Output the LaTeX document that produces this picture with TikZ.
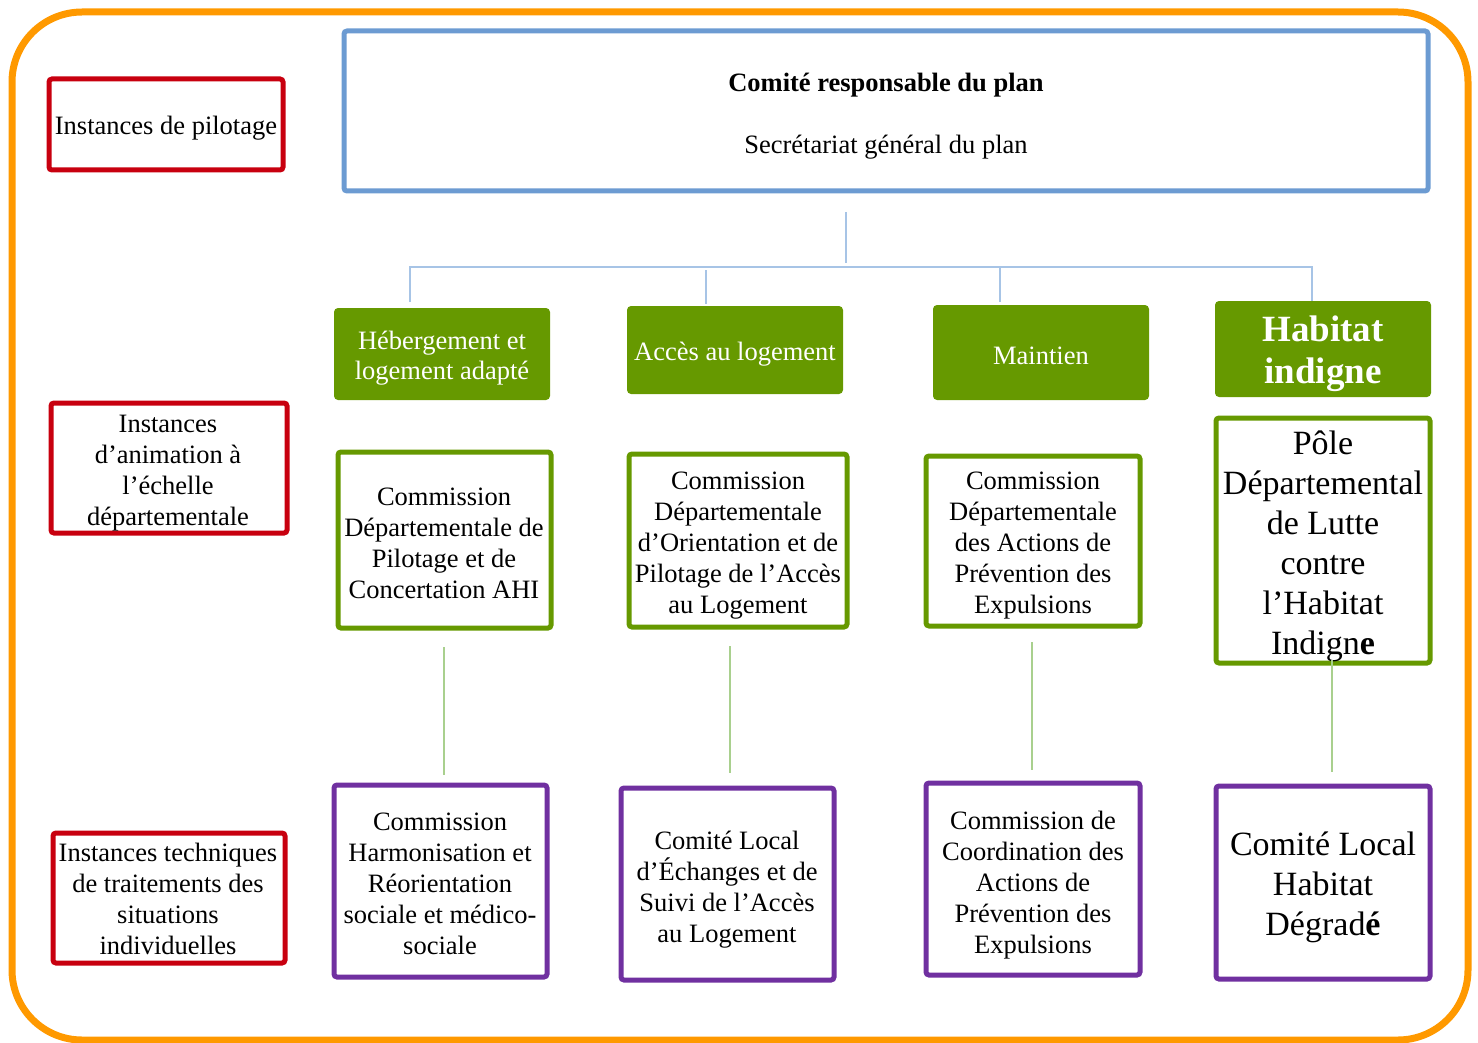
\documentclass[tikz,border=0pt]{standalone}
\usepackage{fontspec}
\setmainfont{Liberation Serif}
\definecolor{borange}{HTML}{FF9900}
\definecolor{bblue}{HTML}{6C9BD2}
\definecolor{lblue}{HTML}{A7C4E6}
\definecolor{bred}{HTML}{C8000F}
\definecolor{bgreen}{HTML}{669900}
\definecolor{lgreen}{HTML}{A9D08E}
\definecolor{bpurple}{HTML}{7030A0}
\tikzset{
  txt/.style={font=\fontsize{26.5}{31}\selectfont, align=center, inner sep=0pt, text=black},
  bigtxt/.style={font=\fontsize{34}{40}\selectfont, align=center, inner sep=0pt, text=black},
  framebox/.style={draw, line width=5pt, rounded corners=3pt, fill=white, inner sep=0pt},
  redbox/.style={framebox, draw=bred},
  bluebox/.style={framebox, draw=bblue},
  greenbox/.style={framebox, draw=bgreen},
  purplebox/.style={framebox, draw=bpurple},
  header/.style={fill=bgreen, rounded corners=4pt, inner sep=0pt, text=white, align=center, font=\fontsize{26.5}{30}\selectfont},
  bline/.style={draw=lblue, line width=1.6pt},
  gline/.style={draw=lgreen, line width=1.6pt},
}
\begin{document}
\begin{tikzpicture}[x=1pt, y=-1pt]
\useasboundingbox (0,0) rectangle (1478,1043);
\draw[borange, line width=7pt, rounded corners=70pt] (12,12) rectangle (1468,1040);

% left labels
\node[redbox, minimum width=234, minimum height=91] (rp) at (166,124.5) {};
\node[txt] (rpt) at (166,128.5) {Instances de pilotage};
\node[redbox, minimum width=236, minimum height=130] (ra) at (169,468) {};
\node[txt] (rat) at (168,473) {Instances\\d’animation à\\l’échelle\\départementale};
\node[redbox, minimum width=232, minimum height=130] (rt) at (169,898) {};
\node[txt] (rtt) at (168,899) {Instances techniques\\de traitements des\\situations\\individuelles};

% top box
\node[bluebox, minimum width=1084, minimum height=160] (top) at (886,111) {};
\node[txt, font=\fontsize{26.5}{31}\selectfont\bfseries] (top1) at (886,85) {Comité responsable du plan};
\node[txt] (top2) at (886,147) {Secrétariat général du plan};

% headers
\node[header, minimum width=216, minimum height=92] (h1) at (442,354) {};
\node[header, fill=none] (h1t) at (442,358) {Hébergement et\\logement adapté};
\node[header, minimum width=216, minimum height=88] (h2) at (735,350) {};
\node[header, fill=none] (h2t) at (735,354) {Accès au logement};
\node[header, minimum width=216, minimum height=95] (h3) at (1041,352.5) {};
\node[header, fill=none] (h3t) at (1041,356) {Maintien};
\node[header, minimum width=216, minimum height=96] (h4) at (1323,349) {};
\node[header, fill=none, font=\fontsize{37}{42}\selectfont\bfseries] (h4t) at (1323,354) {Habitat\\indigne};

% level 2 boxes
\node[greenbox, minimum width=213, minimum height=176] (g1) at (444.5,540) {};
\node[txt] (g1t) at (444,543) {Commission\\Départementale de\\Pilotage et de\\Concertation AHI};
\node[greenbox, minimum width=218, minimum height=173] (g2) at (738,540.5) {};
\node[txt] (g2t) at (738,546) {Commission\\Départementale\\d’Orientation et de\\Pilotage de l’Accès\\au Logement};
\node[greenbox, minimum width=214, minimum height=170] (g3) at (1033,541) {};
\node[txt] (g3t) at (1033,546) {Commission\\Départementale\\des Actions de\\Prévention des\\Expulsions};
\node[greenbox, minimum width=214, minimum height=245] (g4) at (1323,540.5) {};
\node[bigtxt] (g4t) at (1323,546) {Pôle\\Départemental\\de Lutte\\contre\\l’Habitat\\Indign\textbf{e}};

% level 3 boxes
\node[purplebox, minimum width=213, minimum height=192] (p1) at (440.5,881) {};
\node[txt] (p1t) at (440,884) {Commission\\Harmonisation et\\Réorientation\\sociale et médico-\\sociale};
\node[purplebox, minimum width=213, minimum height=192] (p2) at (727.5,884) {};
\node[txt] (p2t) at (727,890) {Comité Local\\d’Échanges et de\\Suivi de l’Accès\\au Logement};
\node[purplebox, minimum width=214, minimum height=192] (p3) at (1033,879) {};
\node[txt] (p3t) at (1033,885) {Commission de\\Coordination des\\Actions de\\Prévention des\\Expulsions};
\node[purplebox, minimum width=214, minimum height=193] (p4) at (1323,882.5) {};
\node[bigtxt] (p4t) at (1323,887) {Comité Local\\Habitat\\Dégrad\textbf{é}};

% blue tree connectors
\coordinate (ta) at (846,212);
\coordinate (tb) at (846,263);
\coordinate (hl) at (410,267);
\coordinate (hr) at (1312,267);
\coordinate (d1) at (410,302);
\coordinate (d2a) at (706,270);
\coordinate (d2) at (706,304);
\coordinate (d3a) at (1000,267);
\coordinate (d3) at (1000,302);
\coordinate (d4) at (1312,301);
\draw[bline] (ta) -- (tb);
\draw[bline] (d1) -- (hl) -- (hr) -- (d4);
\draw[bline] (d2a) -- (d2);
\draw[bline] (d3a) -- (d3);

% green connectors
\coordinate (c1a) at (444,647); \coordinate (c1b) at (444,775);
\coordinate (c2a) at (730,646); \coordinate (c2b) at (730,773);
\coordinate (c3a) at (1032,642); \coordinate (c3b) at (1032,770);
\coordinate (c4a) at (1332,660); \coordinate (c4b) at (1332,772);
\draw[gline] (c1a) -- (c1b);
\draw[gline] (c2a) -- (c2b);
\draw[gline] (c3a) -- (c3b);
\draw[gline] (c4a) -- (c4b);
\end{tikzpicture}
\end{document}
